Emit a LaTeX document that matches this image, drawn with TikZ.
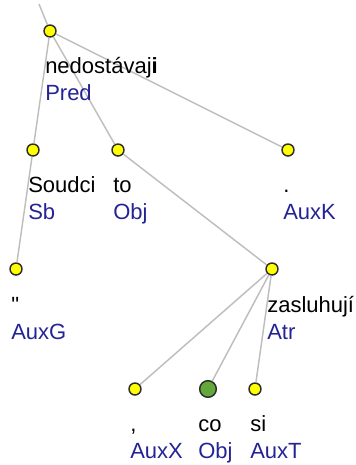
\documentclass[tikz,border=0pt]{standalone}
\usepackage{fontspec}
\setmainfont{Liberation Sans}
\newfontfamily\plainquote{Liberation Sans}
\definecolor{funcblue}{RGB}{35,35,150}
\definecolor{edgegray}{RGB}{190,190,190}
\definecolor{nodeline}{RGB}{45,45,45}
\definecolor{nodeyellow}{RGB}{255,255,0}
\definecolor{nodegreen}{RGB}{98,168,58}
\tikzset{
  tok/.style={circle, draw=nodeline, line width=1.1pt, fill=nodeyellow, minimum size=9pt, inner sep=0pt},
  tokfocus/.style={tok, fill=nodegreen, minimum size=12.5pt},
  form/.style={anchor=base west, inner sep=0pt, font=\fontsize{16.5}{20}\selectfont},
  afun/.style={form, text=funcblue},
  dep/.style={draw=edgegray, line width=1.1pt},
}
\begin{document}
\begin{tikzpicture}[x=0.75pt,y=0.75pt,yscale=-1,xscale=1]
\useasboundingbox (0,0) rectangle (355,465);

% Tree nodes
\coordinate (top) at (39,4);
\node [tok] (pred) at (50,31) {};
\node [tok] (sb) at (33,150) {};
\node [tok] (obj) at (118,150) {};
\node [tok] (auxk) at (288,150) {};
\node [tok] (auxg) at (16,269) {};
\node [tok] (atr) at (272,269) {};
\node [tok] (auxx) at (135,389) {};
\node [tokfocus] (co) at (208,389) {};
\node [tok] (auxt) at (255,389) {};

% Edges
\draw [dep] (top) -- (pred);
\draw [dep] (pred) -- (sb);
\draw [dep] (pred) -- (obj);
\draw [dep] (pred) -- (auxk);
\draw [dep] (sb) -- (auxg);
\draw [dep] (obj) -- (atr);
\draw [dep] (atr) -- (auxx);
\draw [dep] (atr) -- (co);
\draw [dep] (atr) -- (auxt);

% Text Node
\node [form] (predw) at (45,73) {nedostávaj\textbf{i}};
\node [afun] (preda) at (45,100) {Pred};
% Text Node
\node [form] (sbw) at (28,192) {Soudci};
\node [afun] (sba) at (28,219) {Sb};
% Text Node
\node [form] (objw) at (113,192) {to};
\node [afun] (obja) at (113,219) {Obj};
% Text Node
\node [form] (auxkw) at (283,192) {.};
\node [afun] (auxka) at (283,219) {AuxK};
% Text Node
\node [form] (auxgw) at (11,312) {\plainquote "};
\node [afun] (auxga) at (11,339) {AuxG};
% Text Node
\node [form] (atrw) at (267,312) {zasluhují};
\node [afun] (atra) at (267,339) {Atr};
% Text Node
\node [form] (auxxw) at (130,431) {,};
\node [afun] (auxxa) at (130,458) {AuxX};
% Text Node
\node [form] (cow) at (198,431) {co};
\node [afun] (coa) at (198,458) {Obj};
% Text Node
\node [form] (auxtw) at (250,431) {si};
\node [afun] (auxta) at (250,458) {AuxT};

\end{tikzpicture}
\end{document}
